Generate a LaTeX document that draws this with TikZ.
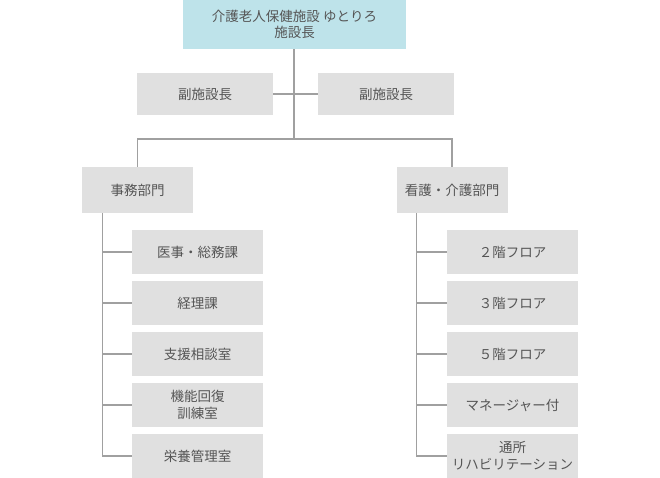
\documentclass[tikz,border=0pt]{standalone}
\usepackage{fontspec}
\setmainfont{Noto Sans CJK JP}
\usetikzlibrary{positioning}
\definecolor{boxgray}{HTML}{E0E0E0}
\definecolor{topblue}{HTML}{BEE3EA}
\definecolor{linegray}{HTML}{A0A0A0}
\definecolor{textgray}{HTML}{555555}

\begin{document}
\begin{tikzpicture}[x=1pt,y=-1pt,
	every node/.style={font=\fontsize{13.5}{16.5}\selectfont, text=textgray, align=center, inner sep=0pt},
	head/.style={fill=topblue, minimum width=223pt, minimum height=49pt},
	vice/.style={fill=boxgray, minimum width=136pt, minimum height=42pt},
	dept/.style={fill=boxgray, minimum width=111pt, minimum height=46pt},
	unit/.style={fill=boxgray, minimum width=131pt, minimum height=44pt},
	conn/.style={draw=linegray, line width=1.1pt}]
	\useasboundingbox (0,0) rectangle (660,477);
	% top
	\node[head] (shisetsu) at (294.5,24.5) {介護老人保健施設 ゆとりろ\\施設長};
	\node[vice] (fuku1) at (205,94) {副施設長};
	\node[vice] (fuku2) at (386,94) {副施設長};
	\coordinate (hub) at (294,139);
	% departments
	\node[dept] (jimu) at (137.5,190) {事務部門};
	\node[dept] (kango) at (452,190) {看護・介護部門};
	% units
	\foreach \txt [count=\i] in {医事・総務課, 経理課, 支援相談室, {機能回復\\訓練室}, 栄養管理室}
		\node[unit] (j\i) at (197.5,{252+51*(\i-1)}) {\txt};
	\foreach \txt [count=\i] in {２階フロア, ３階フロア, ５階フロア, マネージャー付, {通所\\リハビリテーション}}
		\node[unit] (k\i) at (512.5,{252+51*(\i-1)}) {\txt};
	% lines
	\draw[conn] (shisetsu.south -| hub) -- (hub);
	\draw[conn] (fuku1) -- (fuku2);
	\draw[conn] (jimu.north) |- (hub) -| (kango.north);
	\coordinate (jspine) at ([xshift=21pt]jimu.south west);
	\coordinate (kspine) at ([xshift=20pt]kango.south west);
	\draw[conn] (jspine) |- (j5.west);
	\draw[conn] (kspine) |- (k5.west);
	\foreach \i in {1,...,4}{
		\draw[conn] (jspine |- j\i.west) -- (j\i.west);
		\draw[conn] (kspine |- k\i.west) -- (k\i.west);
	}
\end{tikzpicture}
\end{document}
